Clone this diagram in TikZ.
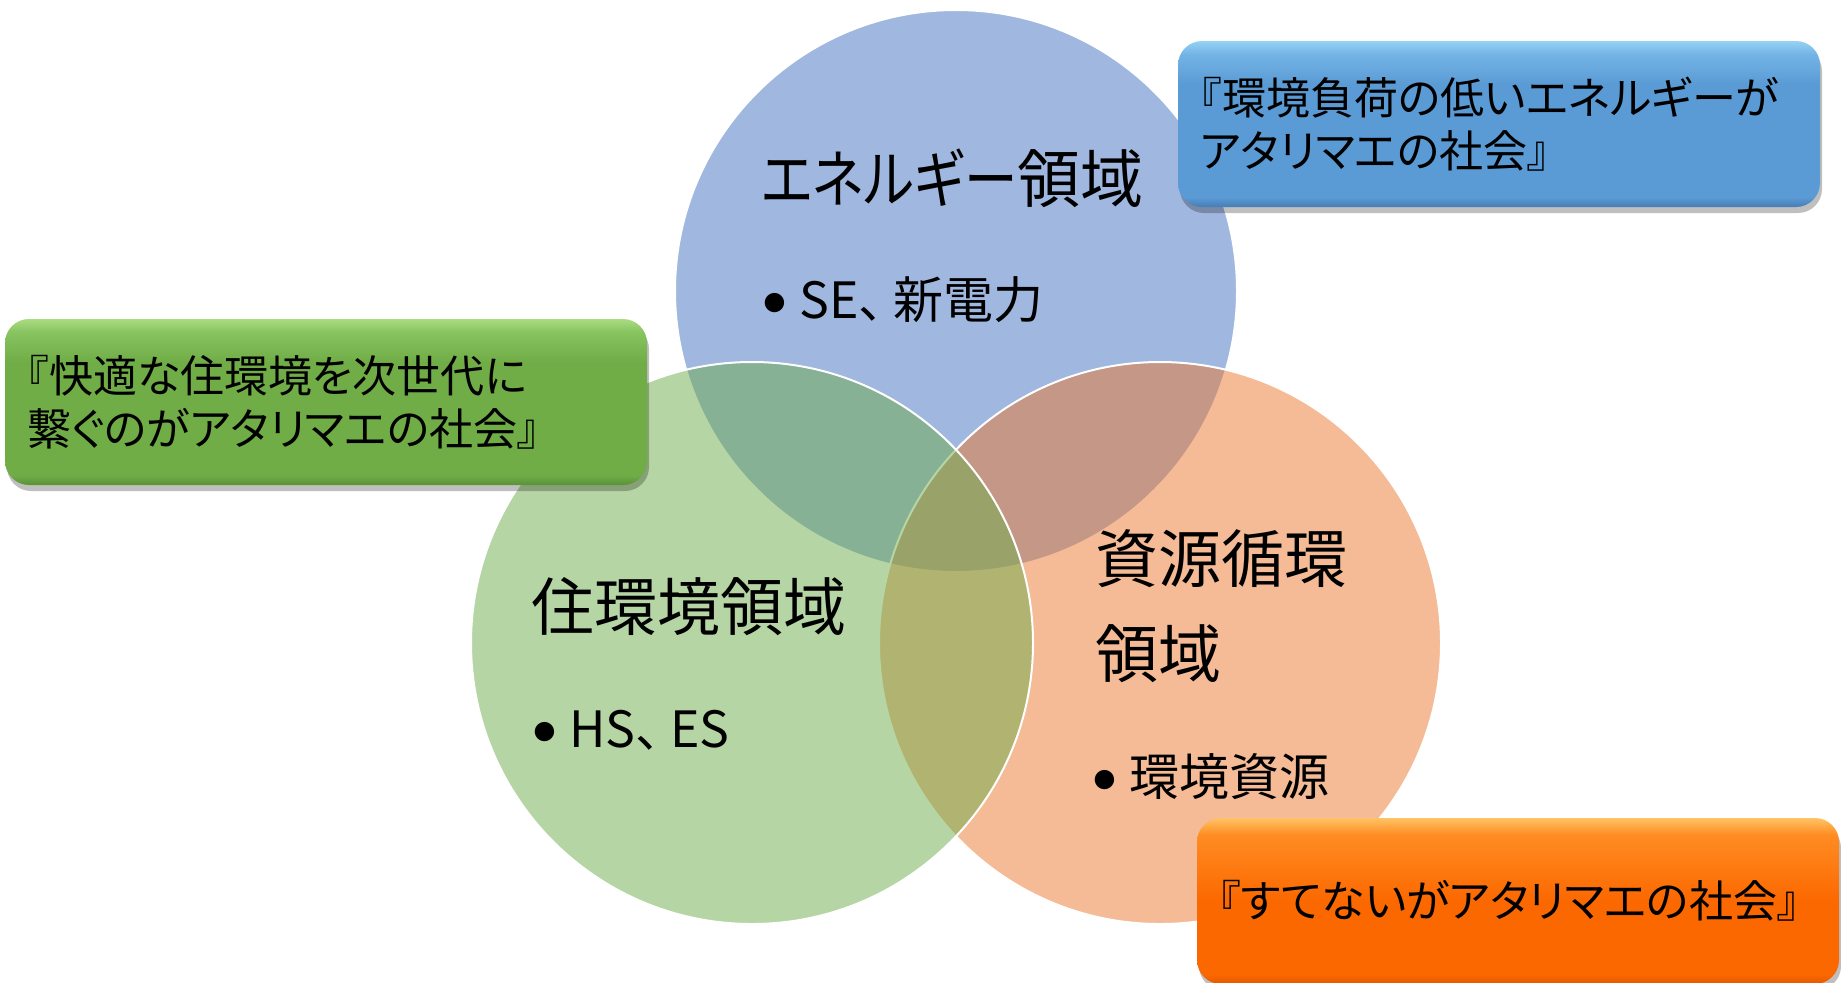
\documentclass[tikz,border=0pt]{standalone}
\usepackage{fontspec}
\setmainfont{Noto Sans CJK JP}[RawFeature={+palt}]
\usetikzlibrary{shadows}
\definecolor{cblue}{RGB}{67,113,193}
\definecolor{cgreen}{RGB}{111,173,75}
\definecolor{corange}{RGB}{235,121,47}
% glossy box colours
\definecolor{bD}{RGB}{70,125,180}
\definecolor{bM}{RGB}{91,155,213}
\definecolor{bL}{RGB}{115,180,230}
\definecolor{bT}{RGB}{150,210,245}
\definecolor{gD}{RGB}{90,145,55}
\definecolor{gM}{RGB}{112,173,71}
\definecolor{gL}{RGB}{135,195,95}
\definecolor{gT}{RGB}{170,220,130}
\definecolor{oD}{RGB}{225,90,0}
\definecolor{oM}{RGB}{252,104,0}
\definecolor{oL}{RGB}{255,140,35}
\definecolor{oT}{RGB}{255,195,100}
\pgfdeclareverticalshading{blueglass}{100bp}{color(0bp)=(bD); color(25bp)=(bD); color(28bp)=(bM); color(62bp)=(bM); color(71bp)=(bL); color(75bp)=(bT); color(100bp)=(bT)}
\pgfdeclareverticalshading{greenglass}{100bp}{color(0bp)=(gD); color(25bp)=(gD); color(28bp)=(gM); color(62bp)=(gM); color(71bp)=(gL); color(75bp)=(gT); color(100bp)=(gT)}
\pgfdeclareverticalshading{orangeglass}{100bp}{color(0bp)=(oD); color(25bp)=(oD); color(28bp)=(oM); color(50bp)=(oM); color(70bp)=(oL); color(75bp)=(oT); color(100bp)=(oT)}
\tikzset{
  venn/.style={fill opacity=0.5, draw=white, line width=1pt},
  glass/.style={rounded corners=12pt, minimum width=321pt, minimum height=83pt,
    align=left, text width=299pt, inner xsep=11pt, inner ysep=0pt,
    font=\fontsize{22pt}{26.5pt}\selectfont,
    drop shadow={shadow xshift=1pt, shadow yshift=-3pt, opacity=0.25, fill=black}},
  head/.style={anchor=west, inner sep=0pt, align=left, font=\fontsize{31.5pt}{47.5pt}\selectfont},
  item/.style={anchor=west, inner sep=0pt, font=\fontsize{25pt}{30pt}\selectfont},
}
\newcommand{\bul}{\raisebox{1.5pt}{\fontsize{25pt}{25pt}\selectfont$\bullet$}\hspace{6pt}}
\newcommand{\tou}{、\hspace{5pt}}
\begin{document}
\begin{tikzpicture}[x=0.5pt,y=-0.5pt]
\useasboundingbox (0,0) rectangle (1841,982);
\fill[white] (0,0) rectangle (1841,982);
% circles
\path[venn, fill=cblue] (956,291) circle[radius=281];
\path[venn, fill=corange] (1160,643) circle[radius=281];
\path[venn, fill=cgreen] (752,643) circle[radius=281];
% labels
\node[head] (hE) at (761,178) {\scalebox{0.85}[1]{エネルギー}領域};
\node[item] (iE) at (762,300) {\bul SE\tou 新電力};
\node[head] (hH) at (531,607) {住環境領域};
\node[item] (iH) at (532,730) {\bul HS\tou ES};
\node[head] (hR) at (1095,606) {資源循環\\領域};
\node[item] (iR) at (1092,777) {\bul 環境資源};
% boxes
\node[glass, shading=blueglass] (bB) at (1499,124) {『環境負荷の低いエネルギーが\\アタリマエの社会』};
\node[glass, shading=greenglass] (bG) at (326,402) {『快適な住環境を次世代に\\繋ぐのがアタリマエの社会』};
\node[glass, shading=orangeglass] (bO) at (1518,901) {『すてないがアタリマエの社会』};
\end{tikzpicture}
\end{document}
